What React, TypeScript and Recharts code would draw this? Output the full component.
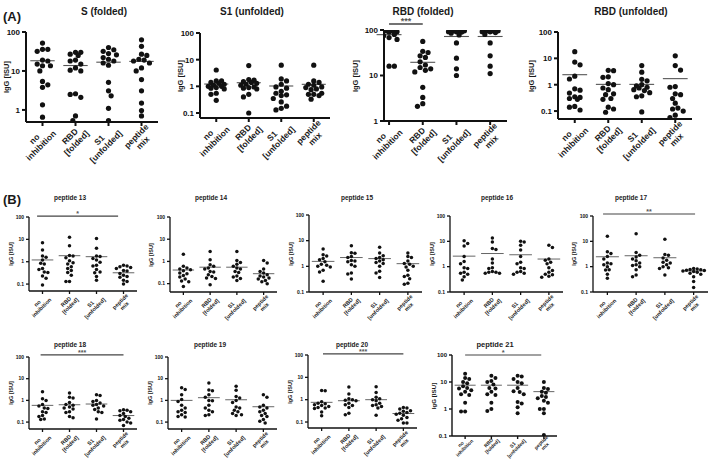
import React from 'react';
import { ScatterChart, Scatter, XAxis, YAxis, ReferenceLine } from 'recharts';

// ---------- data ----------
const groupLabels = ['no\ninhibition', 'RBD\n[folded]', 'S1\n[unfolded]', 'peptide\nmix'];
const groupPositions = [1, 2, 3, 4];
const yLabel = 'IgG [ISU]';

const sFolded = [
  [52, 36, 36, 32, 19, 18, 15, 13.6, 13.6, 10, 5.4, 4.4, 3.8, 1.35, 0.65],
  [30, 30, 27, 25, 19, 18, 15, 12, 10.5, 10, 2.6, 2.5, 2.1, 0.7, 0.53],
  [40, 35, 32, 28, 26, 22, 20, 18, 16, 14, 5.1, 3.1, 2.3, 1.1, 0.53],
  [63, 43, 27, 25, 20, 19, 18, 16, 12, 10, 6, 3.1, 1.5, 0.96, 0.7],
];
const sFoldedMeans = [18.3, 13.8, 16.8, 17.6];

const s1Unfolded = [
  [4.1, 1.6, 1.6, 1.4, 1.3, 1.2, 1.1, 1.0, 1.0, 0.9, 0.85, 0.8, 0.55, 0.5, 0.3],
  [6.0, 1.8, 1.7, 1.5, 1.4, 1.3, 1.2, 1.1, 0.95, 0.9, 0.85, 0.8, 0.5, 0.4, 0.1],
  [6.2, 1.9, 1.6, 1.2, 0.95, 0.85, 0.65, 0.55, 0.48, 0.45, 0.35, 0.26, 0.18, 0.15, 0.13],
  [6.2, 1.6, 1.4, 1.2, 1.1, 0.95, 0.9, 0.8, 0.75, 0.55, 0.5, 0.5, 0.45, 0.33],
];
const s1UnfoldedMeans = [1.22, 1.37, 1.03, 1.19];

const rbdFolded = [
  [97, 97, 97, 96, 96, 92, 91, 90, 80, 75, 68, 62, 60, 16, 16],
  [56, 34, 32, 27, 25, 20, 17, 15, 14, 13, 12, 5.5, 3.3, 2.4, 2.1],
  [97, 97, 97, 96, 96, 96, 92, 91, 90, 85, 78, 52, 24, 14, 10],
  [97, 97, 97, 96, 96, 96, 92, 91, 88, 80, 52, 27, 16, 11],
];
const rbdFoldedMeans = [79, 19.5, 72, 72];

const rbdUnfolded = [
  [18, 7.2, 5.7, 2.1, 1.65, 0.7, 0.62, 0.48, 0.35, 0.33, 0.3, 0.28, 0.15, 0.14, 0.11],
  [3.5, 3.4, 2.0, 1.9, 1.1, 1.0, 0.75, 0.65, 0.45, 0.42, 0.3, 0.28, 0.14, 0.12, 0.09],
  [5.3, 3.0, 1.6, 1.4, 1.0, 0.9, 0.8, 0.75, 0.65, 0.6, 0.5, 0.38, 0.35, 0.093],
  [12.5, 5.3, 3.6, 0.85, 0.8, 0.45, 0.42, 0.3, 0.2, 0.13, 0.12, 0.1, 0.07, 0.056],
];
const rbdUnfoldedMeans = [2.4, 1.03, 1.03, 1.7];

const pep13 = [
  [7, 3.3, 1.8, 1.6, 1.2, 0.85, 0.8, 0.5, 0.45, 0.35, 0.33, 0.23, 0.18, 0.09],
  [12.4, 5.2, 1.9, 1.8, 1.5, 1.1, 0.9, 0.8, 0.6, 0.5, 0.4, 0.33, 0.25, 0.13, 0.13],
  [11, 4, 1.8, 1.7, 1.4, 1.2, 0.95, 0.7, 0.65, 0.45, 0.35, 0.32, 0.22, 0.15],
  [0.7, 0.65, 0.6, 0.55, 0.5, 0.4, 0.38, 0.3, 0.25, 0.22, 0.2, 0.15, 0.13, 0.1],
];
const pep13Means = [1.2, 1.86, 1.68, 0.32];

const pep14 = [
  [2.1, 0.6, 0.5, 0.45, 0.42, 0.38, 0.3, 0.28, 0.23, 0.2, 0.16, 0.13, 0.12, 0.075],
  [2.8, 1.2, 0.7, 0.6, 0.5, 0.45, 0.35, 0.33, 0.25, 0.21, 0.18, 0.17, 0.09],
  [2.8, 1.1, 0.9, 0.75, 0.6, 0.5, 0.45, 0.35, 0.32, 0.22, 0.2, 0.17, 0.14],
  [1.1, 0.85, 0.45, 0.35, 0.3, 0.25, 0.22, 0.2, 0.18, 0.16, 0.14, 0.12, 0.1],
];
const pep14Means = [0.41, 0.55, 0.55, 0.28];

const pep15 = [
  [4.7, 2.8, 2.5, 2.0, 1.8, 1.5, 1.2, 1.1, 1.0, 0.95, 0.7, 0.6, 0.26],
  [6.3, 3.4, 3.2, 2.4, 2.2, 1.7, 1.6, 1.5, 1.15, 1.0, 0.55, 0.5, 0.32],
  [5.6, 3.3, 2.6, 2.2, 2.0, 1.8, 1.6, 1.4, 1.3, 1.0, 0.65, 0.55, 0.37],
  [3.3, 2.4, 2.2, 1.6, 1.3, 1.2, 1.0, 0.95, 0.7, 0.45, 0.4, 0.33, 0.22, 0.2],
];
const pep15Means = [1.56, 2.2, 2.0, 1.27];

const pep16 = [
  [10.5, 8.2, 6.6, 2.5, 1.6, 1.3, 0.9, 0.85, 0.6, 0.55, 0.5, 0.4, 0.3],
  [13.5, 9.5, 5.2, 4.8, 2.0, 1.4, 0.9, 0.85, 0.65, 0.6, 0.6, 0.55, 0.55],
  [10, 9.5, 7, 4.5, 2.5, 1.5, 1.3, 0.9, 0.85, 0.65, 0.6, 0.55, 0.5],
  [7, 5.7, 2.0, 1.8, 1.5, 1.3, 0.9, 0.7, 0.6, 0.5, 0.48, 0.42, 0.38],
];
const pep16Means = [2.6, 3.3, 2.95, 2.0];

const pep17 = [
  [16, 3.9, 3.3, 2.5, 2.0, 1.4, 1.3, 1.2, 1.0, 0.75, 0.74, 0.5, 0.35],
  [20, 3.6, 2.8, 2.4, 2.0, 1.7, 1.4, 1.2, 1.1, 1.0, 0.75, 0.47, 0.4],
  [12, 3, 2.8, 2.2, 1.8, 1.5, 1.4, 1.2, 1.0, 0.9, 0.85, 0.47],
  [0.85, 0.8, 0.78, 0.75, 0.72, 0.7, 0.68, 0.65, 0.6, 0.55, 0.5, 0.4, 0.26, 0.15],
];
const pep17Means = [2.46, 2.7, 2.25, 0.68];

const pep18 = [
  [2.5, 1.2, 1.0, 0.65, 0.55, 0.45, 0.42, 0.3, 0.28, 0.2, 0.18, 0.14, 0.13],
  [2.2, 1.4, 1.3, 0.8, 0.65, 0.6, 0.5, 0.45, 0.4, 0.3, 0.28, 0.18, 0.16],
  [1.8, 1.7, 1.0, 0.9, 0.75, 0.65, 0.6, 0.55, 0.45, 0.38, 0.3, 0.28, 0.14],
  [0.37, 0.35, 0.33, 0.3, 0.25, 0.2, 0.18, 0.15, 0.13, 0.12, 0.1, 0.09, 0.07],
];
const pep18Means = [0.59, 0.63, 0.68, 0.2];

const pep19 = [
  [3.8, 3.2, 1.8, 1.1, 0.9, 0.6, 0.45, 0.35, 0.3, 0.28, 0.22, 0.18, 0.17],
  [6.3, 3.0, 2.8, 1.8, 1.4, 1.0, 0.95, 0.6, 0.45, 0.35, 0.3, 0.22, 0.2],
  [4.5, 2.9, 1.5, 1.3, 1.0, 0.8, 0.5, 0.45, 0.35, 0.3, 0.25, 0.22, 0.2],
  [1.8, 1.4, 0.6, 0.5, 0.45, 0.35, 0.3, 0.25, 0.2, 0.18, 0.13, 0.11, 0.09],
];
const pep19Means = [1.0, 1.33, 1.07, 0.51];

const pep20 = [
  [2.6, 2.5, 0.8, 0.7, 0.65, 0.6, 0.55, 0.5, 0.45, 0.42, 0.4, 0.28, 0.19],
  [3.7, 1.8, 1.1, 1.0, 0.95, 0.9, 0.7, 0.6, 0.55, 0.45, 0.25, 0.21],
  [3.8, 2.1, 1.3, 1.1, 1.0, 0.9, 0.7, 0.6, 0.55, 0.5, 0.42, 0.2],
  [0.45, 0.42, 0.38, 0.32, 0.3, 0.27, 0.25, 0.22, 0.2, 0.16, 0.14, 0.12, 0.09, 0.09],
];
const pep20Means = [0.76, 0.9, 1.0, 0.24];

const pep21 = [
  [20, 14, 13, 10, 9, 7, 6, 5.8, 5, 4.4, 3.5, 3.3, 1.7, 0.8, 0.8],
  [17, 14, 11, 10, 8, 6, 5.8, 4.4, 3.5, 3.3, 1.7, 1.0, 0.85],
  [17, 16, 13, 10, 9, 6, 4.5, 4.3, 3.5, 1.8, 1.6, 1.15, 0.7],
  [10, 6, 5.5, 4.4, 4, 3, 2.8, 2.5, 2, 1.7, 1.0, 1.0, 0.7, 0.11],
];
const pep21Means = [7.6, 7.6, 7.6, 4.4];

const ticksFull = [0.1, 1, 10, 100];
const ticksHigh = [1, 10, 100];

// ---------- styles ----------
const FONT = '"Liberation Sans", Arial, Helvetica, sans-serif';

type Style = {
  r: number; axisW: number; tickLen: number; tickFont: number; catFont: number;
  titleFont: number; ylabFont: number; sigFont: number; meanHalf: number; meanW: number;
  catDx: number; catDy: number; maxOff: number;
};
const styleA: Style = { r: 2.6, axisW: 2, tickLen: 4, tickFont: 8, catFont: 8.5, titleFont: 10, ylabFont: 7.5, sigFont: 9, meanHalf: 0.37, meanW: 1.1, catDx: 3, catDy: -5, maxOff: 0.3 };
const styleB: Style = { r: 1.75, axisW: 1.3, tickLen: 3, tickFont: 5, catFont: 5.5, titleFont: 6.5, ylabFont: 5.5, sigFont: 7, meanHalf: 0.4, meanW: 0.9, catDx: 2, catDy: -3, maxOff: 0.4 };
const styleC: Style = { r: 2.0, axisW: 1.4, tickLen: 3, tickFont: 6, catFont: 4.9, titleFont: 7.5, ylabFont: 6.2, sigFont: 7.5, meanHalf: 0.4, meanW: 0.9, catDx: 2, catDy: -6, maxOff: 0.4 };

type Sig = { from: number; to: number; y: number; text: string };
type PanelCfg = {
  title: string; titleX: number; titleY: number; ylabX: number;
  x0: number; x1: number; yTop: number; yBot: number;
  xDomain: [number, number]; yDomain: [number, number]; yTicks: number[];
  groups: number[][]; means: number[]; sig?: Sig; style: Style;
};

const panels: PanelCfg[] = [
  { title: 'S (folded)', titleX: 104, titleY: 12, ylabX: 7, x0: 26, x1: 158, yTop: 32, yBot: 122, xDomain: [0.5, 4.5], yDomain: [0.49, 100], yTicks: ticksHigh, groups: sFolded, means: sFoldedMeans, style: styleA },
  { title: 'S1 (unfolded)', titleX: 252, titleY: 12, ylabX: 181, x0: 200, x1: 330, yTop: 33, yBot: 118, xDomain: [0.5, 4.5], yDomain: [0.065, 100], yTicks: ticksFull, groups: s1Unfolded, means: s1UnfoldedMeans, style: styleA },
  { title: 'RBD (folded)', titleX: 423, titleY: 12, ylabX: 356, x0: 384, x1: 507, yTop: 30, yBot: 121, xDomain: [0.85, 4.5], yDomain: [1, 100], yTicks: ticksHigh, groups: rbdFolded, means: rbdFoldedMeans, sig: { from: 1, to: 2, y: 135, text: '***' }, style: styleA },
  { title: 'RBD (unfolded)', titleX: 631, titleY: 12, ylabX: 532, x0: 558, x1: 692, yTop: 32, yBot: 119, xDomain: [0.5, 4.5], yDomain: [0.05, 100], yTicks: ticksFull, groups: rbdUnfolded, means: rbdUnfoldedMeans, style: styleA },

  { title: 'peptide 13', titleX: 70, titleY: 198, ylabX: 12, x0: 29, x1: 137, yTop: 217, yBot: 291, xDomain: [0.5, 4.5], yDomain: [0.049, 100], yTicks: ticksFull, groups: pep13, means: pep13Means, sig: { from: 0.8, to: 3.8, y: 110, text: '*' }, style: styleB },
  { title: 'peptide 14', titleX: 211, titleY: 198, ylabX: 152, x0: 170, x1: 277, yTop: 217, yBot: 292, xDomain: [0.5, 4.5], yDomain: [0.042, 100], yTicks: ticksFull, groups: pep14, means: pep14Means, style: styleB },
  { title: 'peptide 15', titleX: 357, titleY: 198, ylabX: 292, x0: 309, x1: 422, yTop: 215, yBot: 292, xDomain: [0.5, 4.5], yDomain: [0.1, 100], yTicks: ticksFull, groups: pep15, means: pep15Means, style: styleB },
  { title: 'peptide 16', titleX: 497, titleY: 198, ylabX: 433, x0: 450, x1: 563, yTop: 216, yBot: 292, xDomain: [0.5, 4.5], yDomain: [0.1, 100], yTicks: ticksFull, groups: pep16, means: pep16Means, style: styleB },
  { title: 'peptide 17', titleX: 631, titleY: 198, ylabX: 575, x0: 593, x1: 708, yTop: 216, yBot: 292, xDomain: [0.5, 4.5], yDomain: [0.1, 100], yTicks: ticksFull, groups: pep17, means: pep17Means, sig: { from: 0.85, to: 4.05, y: 120, text: '**' }, style: styleB },

  { title: 'peptide 18', titleX: 70, titleY: 345, ylabX: 12, x0: 29, x1: 137, yTop: 357, yBot: 429, xDomain: [0.5, 4.5], yDomain: [0.048, 100], yTicks: ticksFull, groups: pep18, means: pep18Means, sig: { from: 0.93, to: 4, y: 124, text: '***' }, style: styleB },
  { title: 'peptide 19', titleX: 210, titleY: 345, ylabX: 151, x0: 168, x1: 277, yTop: 357, yBot: 429, xDomain: [0.5, 4.5], yDomain: [0.048, 100], yTicks: ticksFull, groups: pep19, means: pep19Means, style: styleB },
  { title: 'peptide 20', titleX: 352, titleY: 345, ylabX: 291, x0: 308, x1: 417, yTop: 355, yBot: 428, xDomain: [0.5, 4.5], yDomain: [0.054, 100], yTicks: ticksFull, groups: pep20, means: pep20Means, sig: { from: 1.05, to: 4, y: 112, text: '***' }, style: styleB },
  { title: 'peptide 21', titleX: 495, titleY: 345, ylabX: 434, x0: 452, x1: 557, yTop: 355, yBot: 436, xDomain: [0.5, 4.5], yDomain: [0.1, 100], yTicks: ticksFull, groups: pep21, means: pep21Means, sig: { from: 1, to: 3.9, y: 100, text: '*' }, style: styleC },
];

// ---------- helpers ----------
let measureCtx: CanvasRenderingContext2D | null = null;
function textWidth(t: string, fs: number) {
  if (!measureCtx && typeof document !== 'undefined') {
    measureCtx = document.createElement('canvas').getContext('2d');
  }
  if (!measureCtx) return t.length * fs * 0.55;
  measureCtx.font = `bold ${fs}px "Liberation Sans", Arial, sans-serif`;
  return measureCtx.measureText(t).width;
}

// simple bee-swarm: spreads points that share a value, within a limited width
function swarm(values: number[], center: number, pxPerUnit: number, pxPerDecade: number, r: number, maxOffUnits: number) {
  const d = 2 * r * 1.02;
  const maxOff = maxOffUnits * pxPerUnit;
  const sorted = [...values].sort((a, b) => b - a);
  const placed: [number, number][] = [];
  const out: { x: number; y: number }[] = [];
  let flip = 1;
  for (const v of sorted) {
    const py = -Math.log10(v) * pxPerDecade;
    let chosen = 0;
    let best = -1;
    for (let k = 0; k < 60; k++) {
      const cand = k === 0 ? 0 : Math.ceil(k / 2) * 0.5 * d * (k % 2 === 1 ? flip : -flip);
      if (Math.abs(cand) > maxOff) continue;
      let minD = Infinity;
      for (const [px, qy] of placed) minD = Math.min(minD, Math.hypot(px - cand, qy - py));
      if (minD >= d * 0.99) {
        chosen = cand;
        break;
      }
      if (minD > best) {
        best = minD;
        chosen = cand;
      }
    }
    if (chosen !== 0) flip = -flip;
    placed.push([chosen, py]);
    out.push({ x: center + chosen / pxPerUnit, y: v });
  }
  return out;
}

function CatTick(props: any) {
  const { x, y, payload, st } = props;
  const s: Style = st;
  const lines = groupLabels[Math.round(payload.value) - 1].split('\n');
  const fs = s.catFont;
  const L = Math.max(...lines.map((l) => textWidth(l, fs)));
  return (
    <g transform={`translate(${x + s.catDx},${y + s.catDy}) rotate(-45)`}>
      {lines.map((ln, i) => (
        <text key={i} x={-L / 2} y={fs * 0.75 + i * fs * 1.1} textAnchor="middle" fontSize={fs} fontWeight="bold" fill="#1a1a1a" fontFamily={FONT}>
          {ln}
        </text>
      ))}
    </g>
  );
}

function Panel({ cfg }: { cfg: PanelCfg }) {
  const s = cfg.style;
  const padL = 26, padR = 4, padT = 26, padB = 52;
  const w = cfg.x1 - cfg.x0 + padL + padR;
  const h = cfg.yBot - cfg.yTop + padT + padB;
  const pxPerUnit = (cfg.x1 - cfg.x0) / (cfg.xDomain[1] - cfg.xDomain[0]);
  const pxPerDecade = (cfg.yBot - cfg.yTop) / (Math.log10(cfg.yDomain[1]) - Math.log10(cfg.yDomain[0]));
  const data = cfg.groups.flatMap((vals, i) => swarm(vals, groupPositions[i], pxPerUnit, pxPerDecade, s.r, s.maxOff));
  const axisStyle = { stroke: '#111', strokeWidth: s.axisW };
  return (
    <>
      <div style={{ position: 'absolute', left: cfg.x0 - padL, top: cfg.yTop - padT }}>
        <ScatterChart width={w} height={h} margin={{ top: padT, right: padR, bottom: 0, left: 0 }}>
          <XAxis
            type="number"
            dataKey="x"
            domain={cfg.xDomain}
            ticks={groupPositions}
            interval={0}
            allowDataOverflow
            height={padB}
            tickSize={s.tickLen}
            axisLine={axisStyle}
            tickLine={axisStyle}
            tick={(p: any) => <CatTick {...p} st={s} />}
          />
          <YAxis
            type="number"
            dataKey="y"
            scale="log"
            domain={cfg.yDomain}
            ticks={cfg.yTicks}
            interval={0}
            allowDataOverflow
            width={padL}
            tickSize={s.tickLen}
            axisLine={axisStyle}
            tickLine={axisStyle}
            tick={{ fontSize: s.tickFont, fontWeight: 700, fill: '#111', fontFamily: FONT }}
          />
          {cfg.means.map((m, i) => (
            <ReferenceLine
              key={i}
              segment={[
                { x: groupPositions[i] - s.meanHalf, y: m },
                { x: groupPositions[i] + s.meanHalf, y: m },
              ]}
              stroke="#555"
              strokeWidth={s.meanW}
              ifOverflow="visible"
            />
          ))}
          {cfg.sig && (
            <ReferenceLine
              segment={[
                { x: cfg.sig.from, y: cfg.sig.y },
                { x: cfg.sig.to, y: cfg.sig.y },
              ]}
              stroke="#444"
              strokeWidth={s.meanW + 0.3}
              ifOverflow="visible"
              label={{ value: cfg.sig.text, position: 'top', fontSize: s.sigFont, fill: '#555', fontWeight: 700, offset: 0 }}
            />
          )}
          <Scatter
            data={data}
            isAnimationActive={false}
            shape={(p: any) => <circle cx={p.cx} cy={p.cy} r={s.r} fill="#111" />}
          />
        </ScatterChart>
      </div>
      <div
        style={{
          position: 'absolute', left: cfg.titleX, top: cfg.titleY, transform: 'translate(-50%,-50%)',
          fontSize: s.titleFont, fontWeight: 700, whiteSpace: 'nowrap', fontFamily: FONT, color: '#1a1a1a', lineHeight: 1,
        }}
      >
        {cfg.title}
      </div>
      <div
        style={{
          position: 'absolute', left: cfg.ylabX, top: (cfg.yTop + cfg.yBot) / 2, transform: 'translate(-50%,-50%) rotate(-90deg)',
          fontSize: s.ylabFont, fontWeight: 700, whiteSpace: 'nowrap', fontFamily: FONT, color: '#1a1a1a', lineHeight: 1,
        }}
      >
        {yLabel}
      </div>
    </>
  );
}

export default function App() {
  return (
    <div style={{ position: 'absolute', left: 0, top: 0, width: 709, height: 461, background: '#fff', overflow: 'hidden', fontFamily: FONT }}>
      <div style={{ position: 'absolute', left: 3, top: 10, fontSize: 13, fontWeight: 700, color: '#1a1a1a', lineHeight: 1 }}>(A)</div>
      <div style={{ position: 'absolute', left: 3, top: 193, fontSize: 13, fontWeight: 700, color: '#1a1a1a', lineHeight: 1 }}>(B)</div>
      {panels.map((p, i) => (
        <Panel key={i} cfg={p} />
      ))}
    </div>
  );
}
